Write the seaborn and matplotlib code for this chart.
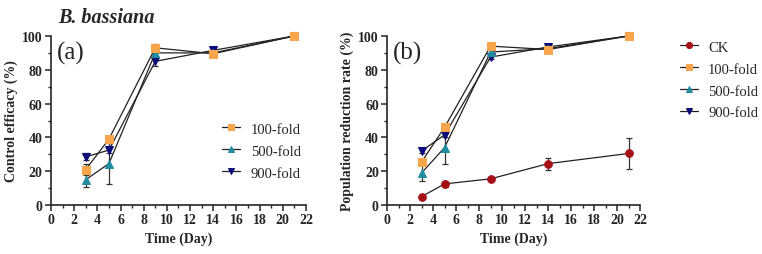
import numpy as np
import pandas as pd
import matplotlib.pyplot as plt
import seaborn as sns
from matplotlib.ticker import MultipleLocator

days = [3, 5, 9, 14, 21]

# panel (a): control efficacy
a_100 = [21, 39, 93, 89.5, 100]
a_500 = [15, 24.5, 90, 90, 100]
a_900 = [28.5, 32.5, 85, 91.5, 100]
a_100_err = [3.5, 2, 2.5, 1, 0]
a_500_err = [4.5, 12, 2, 1, 0]
a_900_err = [2, 1.5, 2.5, 1.5, 0]

# panel (b): population reduction rate
b_ck = [5, 12.5, 15.5, 24.5, 30.5]
b_100 = [25.5, 46, 94, 92, 100]
b_500 = [19, 34, 90.5, 92.5, 100]
b_900 = [32, 41.5, 87.5, 93.5, 100]
b_ck_err = [0.5, 2, 0.5, 3.5, 9]
b_100_err = [2, 1, 2, 1, 0]
b_500_err = [4.5, 9.5, 2, 1, 0]
b_900_err = [1.5, 1.5, 1, 1, 0]

groups = ['CK', '100-fold', '500-fold', '900-fold']
colors = {'CK': '#A50F15', '100-fold': '#F8A54C', '500-fold': '#1F8CA0', '900-fold': '#0B0B7A'}
markers = {'CK': 'o', '100-fold': 's', '500-fold': '^', '900-fold': 'v'}
msizes = {'CK': 5.5, '100-fold': 6, '500-fold': 5.5, '900-fold': 5.5}


def to_long(series):
    rows = []
    for name, (vals, errs) in series.items():
        for d, v, e in zip(days, vals, errs):
            rows.append({'day': d, 'value': v, 'err': e, 'group': name})
    return pd.DataFrame(rows)


df_a = to_long({'100-fold': (a_100, a_100_err), '500-fold': (a_500, a_500_err),
                '900-fold': (a_900, a_900_err)})
df_b = to_long({'CK': (b_ck, b_ck_err), '100-fold': (b_100, b_100_err),
                '500-fold': (b_500, b_500_err), '900-fold': (b_900, b_900_err)})

sns.set_style('ticks')
plt.rcParams['font.family'] = ['Liberation Serif', 'DejaVu Serif']
plt.rcParams['font.weight'] = 'bold'

fig = plt.figure(figsize=(7.62, 2.55), dpi=100)
ax_a = fig.add_axes([0.0669, 0.192, 0.3346, 0.663])
ax_b = fig.add_axes([0.508, 0.192, 0.332, 0.663])


def draw(ax, df, order):
    for g in order:
        sub = df[df['group'] == g]
        ax.errorbar(sub['day'], sub['value'], yerr=sub['err'], fmt='none',
                    ecolor='#333333', elinewidth=0.9, capsize=2.5, capthick=0.9, zorder=2)
        sns.lineplot(data=sub, x='day', y='value', ax=ax, color='#222222', lw=0.9,
                     marker=markers[g], markersize=msizes[g], markerfacecolor=colors[g],
                     markeredgecolor=colors[g], label=g, legend=False, zorder=3, clip_on=False)
    ax.set_xlim(0, 22)
    ax.set_ylim(0, 100)
    ax.xaxis.set_major_locator(MultipleLocator(2))
    ax.xaxis.set_minor_locator(MultipleLocator(1))
    ax.yaxis.set_major_locator(MultipleLocator(20))
    ax.yaxis.set_minor_locator(MultipleLocator(10))
    ax.tick_params(which='major', length=4, width=1.1, labelsize=10, direction='out', pad=2)
    ax.tick_params(which='minor', length=2.5, width=1.0)
    for lab in ax.get_xticklabels() + ax.get_yticklabels():
        lab.set_fontweight('bold')
    for s in ['left', 'bottom']:
        ax.spines[s].set_linewidth(1.2)
    sns.despine(ax=ax)
    ax.set_xlabel('Time (Day)', fontsize=10, fontweight='bold', labelpad=4)


draw(ax_a, df_a, ['900-fold', '500-fold', '100-fold'])
draw(ax_b, df_b, ['CK', '900-fold', '500-fold', '100-fold'])

ax_a.set_ylabel('Control efficacy (%)', fontsize=10, fontweight='bold', labelpad=3)
ax_b.set_ylabel('Population reduction rate (%)', fontsize=10, fontweight='bold', labelpad=3)

ax_a.text(0.5, 90, '(a)', fontsize=18, fontweight='normal', va='center')
ax_b.text(0.5, 90, '(b)', fontsize=18, fontweight='normal', va='center')
fig.text(0.076, 0.93, 'B. bassiana', fontsize=14.5, fontweight='bold', style='italic', va='center')

leg_kw = dict(frameon=False, prop={'size': 10.5, 'weight': 'normal'}, markerscale=0.8,
              handlelength=1.25, handletextpad=0.7, labelspacing=0.6, loc='center left')

h, l = ax_a.get_legend_handles_labels()
order_a = [l.index(x) for x in ['100-fold', '500-fold', '900-fold']]
ax_a.legend([h[i] for i in order_a], [l[i] for i in order_a],
            bbox_to_anchor=(0.62, 0.32), **leg_kw)

h, l = ax_b.get_legend_handles_labels()
order_b = [l.index(x) for x in groups]
ax_b.legend([h[i] for i in order_b], [l[i] for i in order_b],
            bbox_to_anchor=(1.105, 0.74), **leg_kw)

fig.savefig('out.png', dpi=100)
